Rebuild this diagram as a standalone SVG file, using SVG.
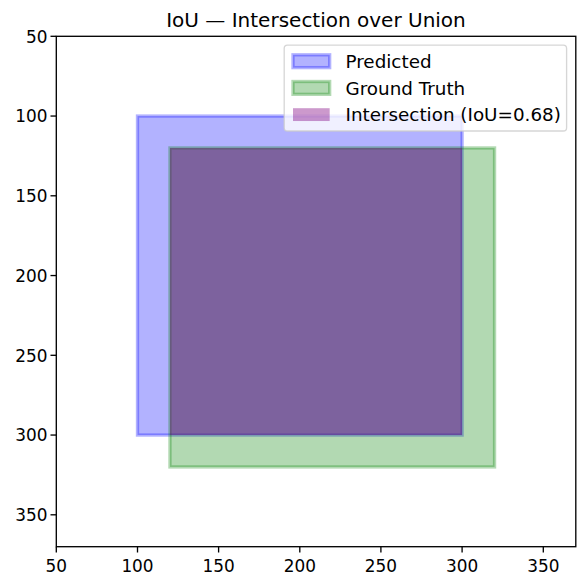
<svg xmlns="http://www.w3.org/2000/svg" width="587" height="586" viewBox="0 0 587 586">
  <style>
    text { font-family: "DejaVu Sans", "Liberation Sans", sans-serif; fill: #000; }
    .tick { font-size: 16.9px; }
    .ytl { text-anchor: end; }
    .xtl { text-anchor: middle; }
    .leg { font-size: 18.33px; }
    .title { font-size: 20px; text-anchor: middle; }
    .tk { stroke: #000; stroke-width: 1.33; }
    .pred { fill: #0000ff; fill-opacity: 0.3; stroke: #0000ff; stroke-opacity: 0.3; stroke-width: 3.33; }
    .gt { fill: #008000; fill-opacity: 0.3; stroke: #008000; stroke-opacity: 0.3; stroke-width: 3.33; }
    .inter { fill: #800080; fill-opacity: 0.4; stroke: none; }
  </style>
  <rect x="0" y="0" width="587" height="586" fill="#ffffff"/>
  <g id="plot">
    <rect x="56.3" y="36.3" width="519.5" height="510.4" fill="#ffffff"/>
    <g id="predicted"><rect class="pred" x="137.5" y="116.05" width="324.6" height="319"/></g>
    <g id="ground-truth"><rect class="gt" x="169.96" y="147.95" width="324.6" height="319"/></g>
    <g id="intersection"><rect class="inter" x="169.96" y="147.95" width="292.14" height="287.1"/></g>
  </g>
  <g id="axes">
    <rect x="56.3" y="36.3" width="519.5" height="510.4" fill="none" stroke="#000" stroke-width="1.33"/>
    <g id="yticks">
      <line class="tk" x1="50.5" y1="36.3" x2="56.3" y2="36.3"/>
      <line class="tk" x1="50.5" y1="116.05" x2="56.3" y2="116.05"/>
      <line class="tk" x1="50.5" y1="195.8" x2="56.3" y2="195.8"/>
      <line class="tk" x1="50.5" y1="275.55" x2="56.3" y2="275.55"/>
      <line class="tk" x1="50.5" y1="355.3" x2="56.3" y2="355.3"/>
      <line class="tk" x1="50.5" y1="435.05" x2="56.3" y2="435.05"/>
      <line class="tk" x1="50.5" y1="514.8" x2="56.3" y2="514.8"/>
      <text class="tick ytl" x="47.5" y="42.5">50</text>
      <text class="tick ytl" x="47.5" y="122.25">100</text>
      <text class="tick ytl" x="47.5" y="202">150</text>
      <text class="tick ytl" x="47.5" y="281.75">200</text>
      <text class="tick ytl" x="47.5" y="361.5">250</text>
      <text class="tick ytl" x="47.5" y="441.25">300</text>
      <text class="tick ytl" x="47.5" y="521">350</text>
    </g>
    <g id="xticks">
      <line class="tk" x1="56.3" y1="546.7" x2="56.3" y2="552.5"/>
      <line class="tk" x1="137.5" y1="546.7" x2="137.5" y2="552.5"/>
      <line class="tk" x1="218.6" y1="546.7" x2="218.6" y2="552.5"/>
      <line class="tk" x1="299.8" y1="546.7" x2="299.8" y2="552.5"/>
      <line class="tk" x1="380.9" y1="546.7" x2="380.9" y2="552.5"/>
      <line class="tk" x1="462.1" y1="546.7" x2="462.1" y2="552.5"/>
      <line class="tk" x1="543.3" y1="546.7" x2="543.3" y2="552.5"/>
      <text class="tick xtl" x="56.3" y="571.5">50</text>
      <text class="tick xtl" x="137.5" y="571.5">100</text>
      <text class="tick xtl" x="218.6" y="571.5">150</text>
      <text class="tick xtl" x="299.8" y="571.5">200</text>
      <text class="tick xtl" x="380.9" y="571.5">250</text>
      <text class="tick xtl" x="462.1" y="571.5">300</text>
      <text class="tick xtl" x="543.3" y="571.5">350</text>
    </g>
    <text id="title" class="title" x="316" y="26.5">IoU — Intersection over Union</text>
  </g>
  <g id="legend">
    <rect x="284.2" y="45.2" width="282.4" height="85.8" rx="3.3" ry="3.3" fill="#ffffff" fill-opacity="0.8" stroke="#cccccc" stroke-opacity="0.8" stroke-width="1.33"/>
    <rect class="pred" x="293" y="54.8" width="36.67" height="12.83"/>
    <rect class="gt" x="293" y="81.5" width="36.67" height="12.83"/>
    <rect class="inter" x="293" y="108.2" width="36.67" height="12.83"/>
    <text class="leg" x="345.5" y="67.9">Predicted</text>
    <text class="leg" x="345.5" y="94.6">Ground Truth</text>
    <text class="leg" x="345.5" y="121.3">Intersection (IoU=0.68)</text>
  </g>
</svg>
